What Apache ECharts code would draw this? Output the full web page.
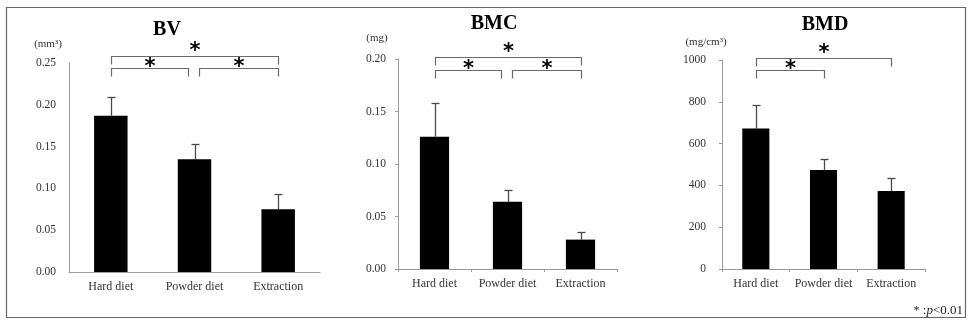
<!DOCTYPE html>
<html>
<head>
<meta charset="utf-8">
<script src="https://cdn.jsdelivr.net/npm/echarts@6/dist/echarts.min.js"></script>
<style>
  html, body { margin: 0; padding: 0; background: #fff; }
  #chart { width: 970px; height: 325px; }
</style>
</head>
<body>
<div id="chart"></div>
<script>
// Groups shared by all three panels
const categories = ['Hard diet', 'Powder diet', 'Extraction'];

// Bone volume (mm³)
const bvMean = [0.187, 0.135, 0.075];
const bvUpper = [0.209, 0.153, 0.093];
const bvTicks = [0, 0.05, 0.10, 0.15, 0.20, 0.25];

// Bone mineral content (mg)
const bmcMean = [0.126, 0.064, 0.028];
const bmcUpper = [0.158, 0.075, 0.035];
const bmcTicks = [0, 0.05, 0.10, 0.15, 0.20];

// Bone mineral density (mg/cm³)
const bmdMean = [672, 474, 373];
const bmdUpper = [787, 524, 434];
const bmdTicks = [0, 200, 400, 600, 800, 1000];

// Significance brackets: [from group, to group, level (0 = lower, 1 = upper)]
const bvSig = [[0, 2, 1], [0, 1, 0], [1, 2, 0]];
const bmcSig = [[0, 2, 1], [0, 1, 0], [1, 2, 0]];
const bmdSig = [[0, 2, 1], [0, 1, 0]];

const SERIF = '"Liberation Serif", "Times New Roman", serif';

const panels = [
  { title: 'BV', unit: '(mm³)', mean: bvMean, upper: bvUpper, ticks: bvTicks, sig: bvSig,
    digits: 2, grid: { left: 69, top: 63, width: 251, height: 209 },
    titlePos: [162, 15], unitPos: [48, 44], bracketY: [56, 68], axisTick: false, labelMargin: 13 },
  { title: 'BMC', unit: '(mg)', mean: bmcMean, upper: bmcUpper, ticks: bmcTicks, sig: bmcSig,
    digits: 2, grid: { left: 398, top: 59, width: 219, height: 210 },
    titlePos: [489, 9], unitPos: [377, 38], bracketY: [57, 70], axisTick: true, labelMargin: 12 },
  { title: 'BMD', unit: '(mg/cm³)', mean: bmdMean, upper: bmdUpper, ticks: bmdTicks, sig: bmdSig,
    digits: 0, grid: { left: 722, top: 60, width: 203, height: 209 },
    titlePos: [820, 10], unitPos: [706, 42], bracketY: [58, 70], axisTick: true, labelMargin: 16 }
];

const chart = echarts.init(document.getElementById('chart'), null, { renderer: 'canvas' });

const grids = [], xAxes = [], yAxes = [], series = [], titles = [], graphics = [];

panels.forEach((p, i) => {
  grids.push(Object.assign({ containLabel: false }, p.grid));
  const tmax = p.ticks[p.ticks.length - 1];
  const step = p.ticks[1] - p.ticks[0];

  xAxes.push({
    type: 'category', gridIndex: i, data: categories,
    axisLine: { lineStyle: { color: '#9a9a9a', width: 1 } },
    axisTick: { show: p.axisTick, alignWithLabel: false, length: 3, lineStyle: { color: '#9a9a9a' } },
    axisLabel: { interval: 0, fontFamily: SERIF, fontSize: 12, color: '#333', margin: 9 }
  });
  yAxes.push({
    type: 'value', gridIndex: i, min: 0, max: tmax, interval: step,
    splitLine: { show: false },
    axisLine: { show: true, lineStyle: { color: '#9a9a9a', width: 1 } },
    axisTick: { show: p.axisTick, length: 3, lineStyle: { color: '#9a9a9a' } },
    axisLabel: {
      fontFamily: SERIF, fontSize: 11.5, color: '#333', margin: p.labelMargin,
      formatter: v => v.toFixed(p.digits)
    }
  });

  series.push({
    type: 'bar', xAxisIndex: i, yAxisIndex: i, data: p.mean,
    barWidth: '40%', itemStyle: { color: '#000' }, silent: true, z: 2
  });

  // upward error bars with a short cap
  series.push({
    type: 'custom', xAxisIndex: i, yAxisIndex: i, z: 1, silent: true, clip: false,
    data: p.mean.map((m, k) => [k, m, p.upper[k]]),
    renderItem: (params, api) => {
      const base = api.coord([api.value(0), api.value(1)]);
      const top = api.coord([api.value(0), api.value(2)]);
      const x = Math.round(base[0]) + 0.5;
      const yt = Math.round(top[1]) + 0.5;
      const style = { stroke: '#4a4a4a', lineWidth: 1.3 };
      return { type: 'group', children: [
        { type: 'line', shape: { x1: x, y1: base[1], x2: x, y2: yt }, style },
        { type: 'line', shape: { x1: x - 4, y1: yt, x2: x + 4, y2: yt }, style }
      ]};
    }
  });

  // significance brackets and asterisks
  series.push({
    type: 'custom', xAxisIndex: i, yAxisIndex: i, z: 3, silent: true, clip: false,
    data: p.sig,
    renderItem: (params, api) => {
      const from = api.value(0), to = api.value(1), level = api.value(2);
      let x1 = api.coord([from, 0])[0];
      let x2 = api.coord([to, 0])[0];
      // leave a small gap where two same-level brackets meet at one group
      if (p.sig.some(s => s[2] === level && s[1] === from)) x1 += 4;
      if (p.sig.some(s => s[2] === level && s[0] === to)) x2 -= 7;
      x1 = Math.round(x1) + 0.5; x2 = Math.round(x2) + 0.5;
      const y = (level === 1 ? p.bracketY[0] : p.bracketY[1]) + 0.5;
      const drop = 8;
      const style = { stroke: '#6a6a6a', lineWidth: 1.2, fill: null };
      return { type: 'group', children: [
        { type: 'polyline', shape: { points: [[x1, y + drop], [x1, y], [x2, y], [x2, y + drop]] }, style },
        { type: 'text', x: (x1 + x2) / 2, y: y - (level === 1 ? 5 : 1),
          style: { text: '*', fontFamily: '"DejaVu Sans", sans-serif', fontSize: 21, fontWeight: 'bold',
                   fill: '#000', align: 'center', verticalAlign: 'middle' } }
      ]};
    }
  });

  titles.push({
    text: p.title, left: p.titlePos[0], top: p.titlePos[1], textAlign: 'center',
    textStyle: { fontFamily: SERIF, fontSize: 20, fontWeight: 'bold', color: '#000' }
  });

  graphics.push({
    type: 'text', x: p.unitPos[0], y: p.unitPos[1],
    style: { text: p.unit, fontFamily: SERIF, fontSize: 11, fill: '#333', align: 'center', verticalAlign: 'middle' }
  });
});

// frame around the figure
graphics.push({
  type: 'rect', shape: { x: 6.5, y: 7.5, width: 959, height: 310 },
  style: { fill: null, stroke: '#666', lineWidth: 1.2 }, z: -1
});

// significance note
graphics.push({
  type: 'text', x: 963, y: 311,
  style: {
    text: '{s|*} {t|:}{p|p}{t|<0.01}',
    align: 'right', verticalAlign: 'middle',
    rich: {
      s: { fontFamily: SERIF, fontSize: 12, fill: '#222' },
      t: { fontFamily: SERIF, fontSize: 13, fill: '#222' },
      p: { fontFamily: SERIF, fontSize: 13, fontStyle: 'italic', fill: '#222' }
    }
  }
});

chart.setOption({
  backgroundColor: '#fff',
  animation: false,
  title: titles,
  grid: grids,
  xAxis: xAxes,
  yAxis: yAxes,
  series: series,
  graphic: graphics
});
</script>
</body>
</html>
